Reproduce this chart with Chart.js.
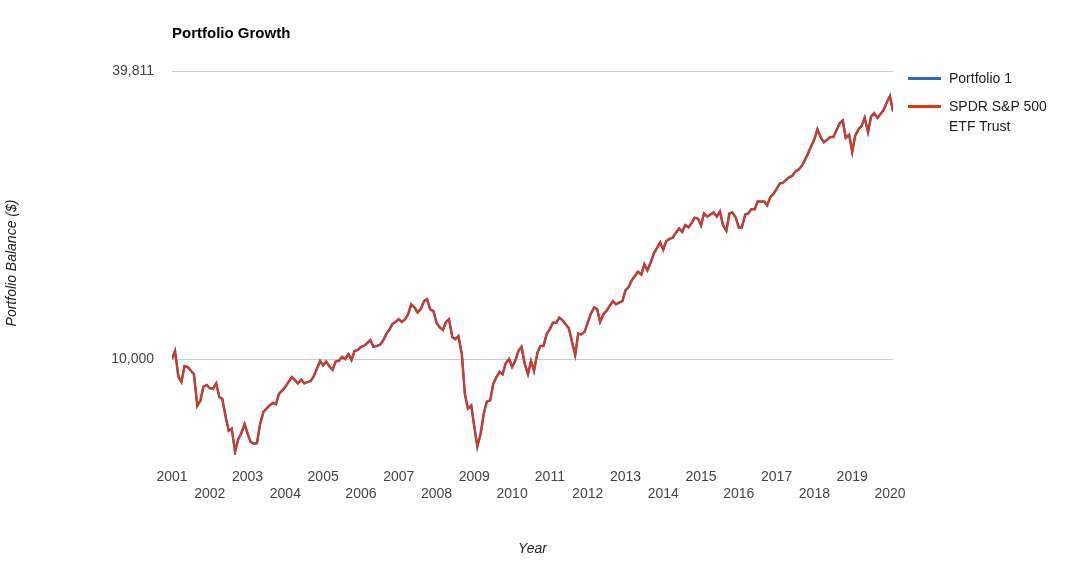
<!DOCTYPE html>
<html><head><meta charset="utf-8">
<script src="https://cdn.jsdelivr.net/npm/chart.js@4"></script>
<style>
body{margin:0;background:#fff;font-family:Arial,"Liberation Sans",sans-serif;}
#wrap{position:relative;width:1075px;height:562px;}
#title{position:absolute;left:172px;top:24px;font-weight:bold;font-size:15px;color:#000;}
.leg{position:absolute;left:910px;font-size:14px;color:#222;line-height:20px;}
.sw{position:absolute;left:-2px;width:32px;height:3px;}
</style></head><body>
<div id="wrap">
<canvas id="c" width="1075" height="562"></canvas>
<div id="title">Portfolio Growth</div>
<div class="leg" style="top:68px"><span class="sw" style="top:9px;background:#3366cc;width:33px"></span><span style="margin-left:39px">Portfolio 1</span></div>
<div class="leg" style="top:96px"><span class="sw" style="top:9px;background:#dc3912;width:33px"></span><div style="margin-left:39px">SPDR S&amp;P 500<br>ETF Trust</div></div>
</div>
<script>
const xs=[2001.0,2001.08,2001.17,2001.25,2001.33,2001.42,2001.5,2001.58,2001.67,2001.75,2001.83,2001.92,
2002.0,2002.08,2002.17,2002.25,2002.33,2002.42,2002.5,2002.58,2002.67,2002.75,2002.83,2002.92,
2003.0,2003.08,2003.17,2003.25,2003.33,2003.42,2003.5,2003.58,2003.67,2003.75,2003.83,2003.92,
2004.0,2004.08,2004.17,2004.25,2004.33,2004.42,2004.5,2004.58,2004.67,2004.75,2004.83,2004.92,
2005.0,2005.08,2005.17,2005.25,2005.33,2005.42,2005.5,2005.58,2005.67,2005.75,2005.83,2005.92,
2006.0,2006.08,2006.17,2006.25,2006.33,2006.42,2006.5,2006.58,2006.67,2006.75,2006.83,2006.92,
2007.0,2007.08,2007.17,2007.25,2007.33,2007.42,2007.5,2007.58,2007.67,2007.75,2007.83,2007.92,
2008.0,2008.08,2008.17,2008.25,2008.33,2008.42,2008.5,2008.58,2008.67,2008.75,2008.83,2008.92,
2009.0,2009.08,2009.17,2009.25,2009.33,2009.42,2009.5,2009.58,2009.67,2009.75,2009.83,2009.92,
2010.0,2010.08,2010.17,2010.25,2010.33,2010.42,2010.5,2010.58,2010.67,2010.75,2010.83,2010.92,
2011.0,2011.08,2011.17,2011.25,2011.33,2011.42,2011.5,2011.58,2011.67,2011.75,2011.83,2011.92,
2012.0,2012.08,2012.17,2012.25,2012.33,2012.42,2012.5,2012.58,2012.67,2012.75,2012.83,2012.92,
2013.0,2013.08,2013.17,2013.25,2013.33,2013.42,2013.5,2013.58,2013.67,2013.75,2013.83,2013.92,
2014.0,2014.08,2014.17,2014.25,2014.33,2014.42,2014.5,2014.58,2014.67,2014.75,2014.83,2014.92,
2015.0,2015.08,2015.17,2015.25,2015.33,2015.42,2015.5,2015.58,2015.67,2015.75,2015.83,2015.92,
2016.0,2016.08,2016.17,2016.25,2016.33,2016.42,2016.5,2016.58,2016.67,2016.75,2016.83,2016.92,
2017.0,2017.08,2017.17,2017.25,2017.33,2017.42,2017.5,2017.58,2017.67,2017.75,2017.83,2017.92,
2018.0,2018.08,2018.17,2018.25,2018.33,2018.42,2018.5,2018.58,2018.67,2018.75,2018.83,2018.92,
2019.0,2019.08,2019.17,2019.25,2019.33,2019.42,2019.5,2019.58,2019.67,2019.75,2019.83,2019.92,
2020.0,2020.08];
const portfolio1=[10000,10390,9180,8960,9670,9620,9450,9300,7990,8180,8750,8830,
8700,8660,8900,8340,8260,7580,7090,7160,6410,6800,6990,7320,
6990,6720,6660,6680,7320,7760,7880,8000,8100,8050,8460,8600,
8750,8950,9170,9050,8900,9050,8900,8950,9000,9200,9530,9900,
9700,9880,9640,9500,9880,9920,10100,10000,10240,9950,10390,10450,
10600,10650,10800,10950,10600,10650,10700,10900,11270,11500,11820,11950,
12100,11950,12100,12400,13000,12800,12500,12700,13200,13320,12700,12570,
11900,11650,11500,11940,12100,11100,11000,11150,10240,8460,7880,8000,
7230,6570,7000,7690,8150,8200,8870,9150,9400,9300,9800,10000,
9630,9900,10400,10600,9800,9300,9900,9450,10300,10650,10650,11300,
11540,11900,11900,12200,12050,11800,11600,10900,10200,11300,11250,11400,
11900,12400,12800,12700,11950,12400,12600,12900,13200,13000,13100,13200,
13900,14100,14600,14900,15200,15000,15750,15300,15900,16600,17000,17500,
16900,17600,17800,17900,18300,18700,18400,19000,18800,19200,19700,19600,
19000,20100,19800,20000,20200,19800,20300,19000,18500,20100,20200,19700,
18800,18800,20000,20100,20500,20500,21300,21300,21300,20900,21700,22100,
22600,23200,23300,23600,23900,24100,24600,24800,25300,26000,26800,27800,
28700,30100,28900,28300,28600,29000,29000,29900,31000,31400,28900,29300,
27000,29200,30100,30600,31800,29700,32000,32500,31800,32400,33000,34300,
35300,32800];
const spdr=portfolio1.slice();
const yTicks=[10000,39811];
const xTicks=[2001,2002,2003,2004,2005,2006,2007,2008,2009,2010,2011,2012,2013,2014,2015,2016,2017,2018,2019,2020];
const pts=a=>a.map((v,i)=>({x:xs[i],y:v}));
new Chart(document.getElementById('c'),{
 type:'line',
 data:{datasets:[
  {label:'SPDR S&P 500 ETF Trust',data:pts(spdr),borderColor:'#dc3912',borderWidth:2,pointRadius:0,tension:0,order:1},
  {label:'Portfolio 1',data:pts(portfolio1),borderColor:'#3366cc',borderWidth:2.5,pointRadius:0,tension:0,order:2}
 ]},
 options:{responsive:false,animation:false,
  layout:{padding:{left:0,right:182,top:71,bottom:0}},
  plugins:{legend:{display:false},tooltip:{enabled:false}},
  scales:{
   x:{type:'linear',min:2001,max:2020.08,
    afterBuildTicks:s=>{s.ticks=xTicks.map(v=>({value:v}));},
    afterFit:s=>{s.height=107;},
    grid:{display:false},border:{display:false},
    ticks:{autoSkip:false,maxRotation:0,color:'#444',font:{size:14,family:'Arial'},padding:6,
      callback:v=>(v%2===1)?[String(v)]:['',String(v)]},
    title:{display:true,text:'Year',font:{size:14,style:'italic',family:'Arial'},color:'#222',padding:{top:10}}},
   y:{type:'logarithmic',min:6310,max:39811,
    afterBuildTicks:s=>{s.ticks=yTicks.map(v=>({value:v}));},
    afterFit:s=>{s.width=172;},
    grid:{color:'#cccccc',drawTicks:false},border:{display:false},
    ticks:{color:'#444',font:{size:14,family:'Arial'},padding:18,callback:v=>Number(v).toLocaleString('en-US')},
    title:{display:true,text:'Portfolio Balance ($)',font:{size:14,style:'italic',family:'Arial'},color:'#222',padding:{bottom:50}}}
  }}
});
</script></body></html>
